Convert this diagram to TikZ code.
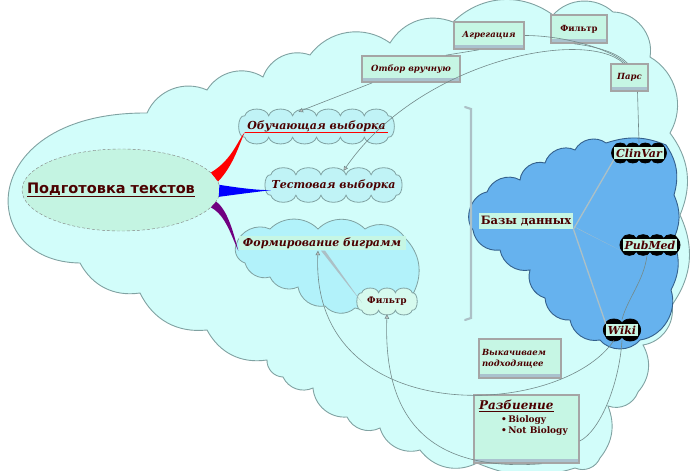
\documentclass[tikz,border=0pt]{standalone}
\usepackage{fontspec}
\setmainfont{DejaVu Serif}
\newfontfamily\headfont{DejaVu Sans}
\usetikzlibrary{positioning,shapes.geometric,arrows.meta,calc,backgrounds}

\definecolor{skyfill}{RGB}{210,253,250}
\definecolor{skyline}{RGB}{128,162,162}
\definecolor{leaffill}{RGB}{192,243,246}
\definecolor{groupfill}{RGB}{178,242,250}
\definecolor{sievefill}{RGB}{214,250,238}
\definecolor{mintfill}{RGB}{198,246,228}
\definecolor{rootfill}{RGB}{196,244,226}
\definecolor{stripe}{RGB}{170,194,206}
\definecolor{boxedge}{RGB}{165,165,165}
\definecolor{inkbrown}{RGB}{75,0,0}
\definecolor{dbblue}{RGB}{102,178,238}
\definecolor{dbedge}{RGB}{52,96,140}
\definecolor{linkgray}{RGB}{115,138,138}
\definecolor{hubgray}{RGB}{172,192,198}
\definecolor{plum}{RGB}{112,0,128}

% bumpy outline round a node: [line colour]{node}{bumps per side}{fill}{bend of the ends}
\newcommand\puffcloud[5][skyline]{%
  \draw[draw=#1, fill=#4, line width=0.8pt]
    (#2.north west)
    \foreach \k in {1,...,#3}{ to[bend left=75] ($(#2.north west)!\k/#3!(#2.north east)$) }
    to[bend left=#5] (#2.south east)
    \foreach \k in {1,...,#3}{ to[bend left=75] ($(#2.south east)!\k/#3!(#2.south west)$) }
    to[bend left=#5] (#2.north west) -- cycle;
}

\tikzset{
  leaftext/.style={text=inkbrown, font=\bfseries\itshape\fontsize{11}{12}\selectfont},
  leafbox/.style={rectangle, inner sep=0pt, leaftext},
  taskbox/.style={rectangle, draw=boxedge, line width=1.6pt, fill=mintfill,
    text=inkbrown, font=\bfseries\itshape\fontsize{8.5}{11}\selectfont,
    inner sep=3pt,
    path picture={\fill[stripe] ([yshift=1pt]path picture bounding box.south west)
      rectangle ([yshift=4.5pt]path picture bounding box.south east);}},
  dbtext/.style={fill=mintfill, text=inkbrown, inner xsep=2pt, inner ysep=2pt,
    font=\bfseries\itshape\fontsize{11}{12}\selectfont},
  linkline/.style={draw=linkgray, line width=0.6pt},
  linkarrow/.style={-{Triangle[length=4.5pt,width=4.5pt,fill=gray!45]}},
  hubline/.style={draw=hubgray, line width=1.3pt},
}

\begin{document}
\begin{tikzpicture}[x=1pt,y=-1pt]
\useasboundingbox (0,0) rectangle (691,471);

\begin{pgfonlayer}{background}
% outer cloud
\draw[draw=skyline, fill=skyfill, line width=0.9pt]
  (80,263) .. controls (-25,262) and (-25,112) .. (147,113)
  to[bend left=45] (207,90) to[bend left=45] (263,77) to[bend left=45] (310,55)
  to[bend left=45] (390,43) to[bend left=40] (453,22) to[bend left=40] (553,15)
  to[bend left=45] (613,12) to[bend left=50] (650,57) to[bend left=45] (670,133)
  to[bend left=30] (680,215) to[bend left=30] (672,305) to[bend left=45] (643,345)
  to[bend left=35] (638,392) to[bend left=45] (608,406) to[bend left=30] (600,458)
  to[bend left=45] (575,468) to[bend left=20] (477,463) to[bend left=40] (420,450)
  to[bend left=45] (380,428) to[bend left=45] (347,417) to[bend left=45] (313,388)
  to[bend left=45] (283,377) to[bend left=45] (267,360) to[bend left=35] (207,330)
  to[bend left=35] (140,293) to[bend left=35] (80,263) -- cycle;

% cloud of the bigram group
\draw[draw=skyline, fill=groupfill, line width=0.8pt]
  (236,245) to[bend left=50] (270,229) to[bend left=45] (318,229)
  to[bend left=45] (365,229) to[bend left=45] (405,238) to[bend left=35] (414,292)
  to[bend left=30] (355,308) to[bend left=45] (325,306) to[bend left=45] (298,287)
  to[bend left=45] (270,277) to[bend left=45] (245,263) to[bend left=45] (236,245) -- cycle;

% data bases cloud
\draw[draw=dbedge, fill=dbblue, line width=0.9pt]
  (473,230) to[bend left=60] (487,192) to[bend left=50] (520,180)
  to[bend left=50] (545,163) to[bend left=50] (575,150) to[bend left=50] (606,143)
  to[bend left=20] (666,145) to[bend left=25] (674,195) to[bend left=25] (673,240)
  to[bend left=25] (671,290) to[bend left=50] (640,340) to[bend left=50] (600,340)
  to[bend left=45] (570,320) to[bend left=45] (545,298) to[bend left=45] (530,270)
  to[bend left=45] (500,250) to[bend left=45] (473,230) -- cycle;

% brace
\draw[draw=hubgray, line width=2.2pt, line cap=round]
  (465,107) -- (471,109) -- (471,318) -- (465,320);
\end{pgfonlayer}

\node[ellipse, draw=gray, dash pattern=on 3pt off 2pt, fill=rootfill,
  minimum width=198pt, minimum height=82pt,
  label={[xshift=-10pt, text=inkbrown, font=\headfont\bfseries\fontsize{14.5}{16}\selectfont]center:\underline{Подготовка текстов}}]
  (root) at (121,190) {};

\node[leafbox, minimum width=143pt, minimum height=21pt] (train) at (316.5,126.5) {Обучающая выборка};
\node[leafbox, minimum width=125pt, minimum height=20pt] (test) at (333.5,185) {Тестовая выборка};
\node[fill=mintfill, leaftext, inner xsep=3pt, inner ysep=2pt, minimum width=167pt]
  (bigram) at (322,243) {Формирование биграмм};
\node[rectangle, inner sep=0pt, minimum width=50pt, minimum height=17pt,
  text=inkbrown, font=\bfseries\fontsize{9}{10}\selectfont]
  (sieve) at (387,301.5) {Фильтр};

\node[taskbox, minimum width=98pt, minimum height=26pt] (pick) at (411,69) {Отбор вручную};
\node[taskbox, minimum width=70pt, minimum height=27pt] (merge) at (489,35.5) {Агрегация};
\node[taskbox, minimum width=56pt, minimum height=28pt,
  font=\bfseries\fontsize{8.5}{11}\selectfont] (cut) at (579,29) {Фильтр};
\node[taskbox, minimum width=37pt, minimum height=27pt] (parse) at (629.5,77.5) {Парс};
\node[taskbox, minimum height=39pt, text width=76pt, align=left]
  (fetch) at (520,358.5) {Выкачиваем\\подходящее};
\node[taskbox, minimum width=105pt, minimum height=68pt] (split) at (526.5,429)
  {\parbox[c][58pt][t]{95pt}{{\fontsize{12}{14}\selectfont\underline{Разбиение}}\\[2pt]
   {\upshape\fontsize{9}{13}\selectfont
   \hspace*{22pt}\textbullet\,Biology\\
   \hspace*{22pt}\textbullet\,Not Biology}}};

\node[fill=mintfill, text=inkbrown, inner xsep=2pt, inner ysep=3pt,
  font=\bfseries\fontsize{11.5}{12}\selectfont] (dbs) at (526,221) {Базы данных};
\node[dbtext] (clinvar) at (639,153) {ClinVar};
\node[dbtext] (pubmed) at (650,245) {PubMed};
\node[dbtext] (wiki) at (622,330) {Wiki};

\begin{pgfonlayer}{background}
  \puffcloud{train}{6}{leaffill}{100}
  \puffcloud{test}{5}{leaffill}{100}
  \puffcloud{sieve}{3}{sievefill}{100}
  \puffcloud[black]{clinvar}{4}{black}{40}
  \puffcloud[black]{pubmed}{4}{black}{40}
  \puffcloud[black]{wiki}{2}{black}{40}
\end{pgfonlayer}

% branches of the root
\fill[red] (root.11) .. controls (232,160) and (238,140) .. ([yshift=5pt]train.south west)
  .. controls (240,142) and (234,165) .. (root.5) -- cycle;
\draw[red, line width=0.9pt] ([yshift=5pt]train.south west) -- ([yshift=5pt]train.south east);
\fill[blue] (root.3) .. controls (240,188) and (255,190) .. ([yshift=5pt]test.south west)
  .. controls (255,192) and (240,194) .. (root.-4) -- cycle;
\fill[plum] (root.-7) .. controls (228,210) and (234,235) .. (bigram.south west)
  .. controls (232,238) and (226,215) .. (root.-11) -- cycle;

% children of the groups
\fill[hubgray] ([xshift=-1pt]bigram.south) -- ([xshift=3pt]bigram.south) -- ([yshift=-1pt]sieve.west) -- cycle;
\draw[hubline] (dbs.south east) -- (clinvar.south west);
\draw[hubline] (dbs.south east) -- (wiki.north west);
\fill[hubgray] ([yshift=3pt]dbs.south east) -- (pubmed.south west) -- ([xshift=5pt]dbs.south east) -- cycle;

% links
\draw[linkline, linkarrow] ([xshift=11pt]pick.south west) .. controls +(-25,10) and +(20,-8) .. ([xshift=-18pt,yshift=4pt]train.north);
\draw[linkline] ([xshift=-10pt]merge.south) -- ([xshift=-15pt]pick.north east);
\draw[linkline] (merge.east) .. controls +(40,0) and +(-15,-14) .. ([xshift=-4pt]parse.north);
\draw[linkline] ([xshift=-5pt]cut.south) .. controls +(25,3) and +(-10,-10) .. ([xshift=-2pt]parse.north);
\draw[linkline, linkarrow] ([xshift=-6pt]parse.north) .. controls (585,28) and (420,60) .. ([xshift=10pt,yshift=4pt]test.north);
\draw[linkline] ([xshift=8pt]parse.south) -- ([yshift=4pt]clinvar.north);
\draw[linkline] ([xshift=-3pt,yshift=-4pt]pubmed.south) .. controls +(-3,25) and +(5,-20) .. ([yshift=4pt]wiki.north);
\draw[linkline, linkarrow] ([xshift=-8pt,yshift=-4pt]wiki.south) .. controls (560,420) and (310,430) .. ([xshift=-4pt]bigram.south);
\draw[linkline] ([yshift=-4pt]wiki.south) .. controls +(-3,45) and +(20,-10) .. ([yshift=-12pt]split.east);
\draw[linkline, linkarrow] ([xshift=15pt]split.south) .. controls (430,472) and (383,420) .. ([yshift=-4pt]sieve.south);
\end{tikzpicture}
\end{document}
